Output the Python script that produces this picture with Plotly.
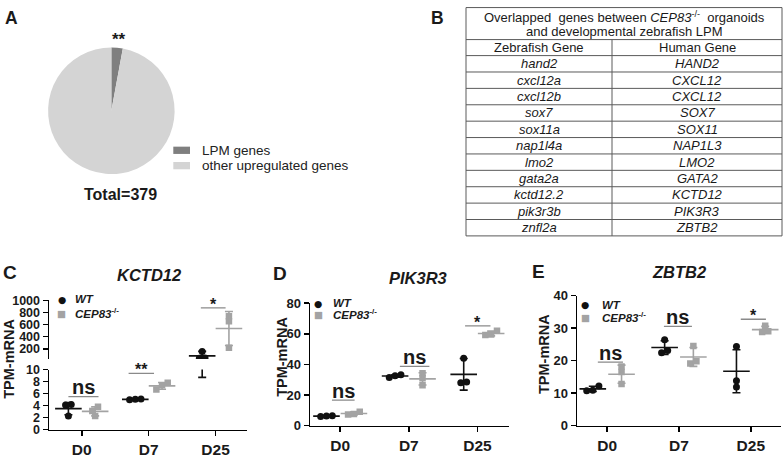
import plotly.graph_objects as go

W, H = 784, 458
FONT = "Liberation Sans, Arial, Helvetica, sans-serif"
TXT = "#1a1a1a"
BLACK = "#111111"
GRAY = "#a3a3a3"
SIGLINE = "#8a8a8a"

def px(x):
    return x / W

def py(y):
    return 1 - y / H

# ---------------- data ----------------
pie_labels = ["LPM genes", "other upregulated genes"]
pie_values = [11, 368]
pie_total_label = "Total=379"

zebrafish_genes = ["hand2", "cxcl12a", "cxcl12b", "sox7", "sox11a", "nap1l4a",
                   "lmo2", "gata2a", "kctd12.2", "pik3r3b", "znfl2a"]
human_genes = ["HAND2", "CXCL12", "CXCL12", "SOX7", "SOX11", "NAP1L3",
               "LMO2", "GATA2", "KCTD12", "PIK3R3", "ZBTB2"]

timepoints = ["D0", "D7", "D25"]
groups = ["WT", "CEP83<sup>-/-</sup>"]

# KCTD12 (TPM)
kctd12_wt = [[4.2, 4.1, 2.3], [5.0, 5.05, 5.1], [155, 48, 45]]
kctd12_wt_mean = [3.5, 5.05, 83]
kctd12_wt_sd = [1.0, 0.05, 74.3]
kctd12_ko = [[3.8, 3.1, 2.3], [7.8, 7.4, 6.7], [735, 655, 215]]
kctd12_ko_mean = [3.05, 7.3, 535]
kctd12_ko_sd = [0.75, 0.56, 280]
kctd12_sig = ["ns", "**", "*"]
kctd12_sig_y = [5.5, 9.36, 874]

# PIK3R3 (TPM)
pik3r3_wt = [[6.5, 6.0, 6.2], [33.2, 32.5, 31.5], [44, 28, 28.5]]
pik3r3_wt_mean = [6.2, 32.4, 33.5]
pik3r3_wt_sd = [0.3, 0.85, 10.3]
pik3r3_ko = [[9.0, 7.5, 7.3], [34.2, 31.0, 26.3], [62.0, 59.5, 59.2]]
pik3r3_ko_mean = [7.9, 30.5, 60.2]
pik3r3_ko_sd = [0.9, 4.0, 1.55]
pik3r3_sig = ["ns", "ns", "*"]
pik3r3_sig_y = [16.7, 38.7, 65.2]

# ZBTB2 (TPM)
zbtb2_wt = [[12.2, 10.7, 10.9], [26.4, 22.4, 23.1], [24.3, 13.8, 11.9]]
zbtb2_wt_mean = [11.3, 24.0, 16.7]
zbtb2_wt_sd = [0.8, 2.1, 6.6]
zbtb2_ko = [[18.2, 16.5, 12.8], [24.5, 19.1, 19.8], [30.7, 29.0, 28.8]]
zbtb2_ko_mean = [15.8, 21.1, 29.5]
zbtb2_ko_sd = [2.8, 2.9, 1.0]
zbtb2_sig = ["ns", "ns", "*"]
zbtb2_sig_y = [19.5, 30.5, 32.7]

# broken-axis segments of panel C
C_UPPER = [30, 1000]
C_LOWER = [0, 10]

# ---------------- helpers ----------------
SIDE = 0.2      # dodge between genotypes
STEP = 0.085    # horizontal swarm step


def swarm(vals, ppu_fn, tol_px=5.0):
    n = len(vals)
    order = sorted(range(n), key=lambda i: vals[i])
    clusters = []
    for i in order:
        if clusters:
            j = clusters[-1][-1]
            if abs(vals[i] - vals[j]) * ppu_fn(vals[i]) < tol_px:
                clusters[-1].append(i)
                continue
        clusters.append([i])
    offs = [0.0] * n
    for c in clusters:
        k = len(c)
        for m, i in enumerate(c):
            offs[i] = (m - (k - 1) / 2) * STEP
    return offs


fig = go.Figure()


def add_genotype(xa, ya, pts, means, sds, color, symbol, side, ppu_fn, yrange=None):
    lo, hi = yrange if yrange else (-1e18, 1e18)
    xs, ys = [], []
    for i, vals in enumerate(pts):
        offs = swarm(vals, ppu_fn)
        for v, o in zip(vals, offs):
            if lo <= v <= hi:
                xs.append(i + side * SIDE + o)
                ys.append(v)
    fig.add_trace(go.Scatter(
        x=xs, y=ys, mode="markers", xaxis=xa, yaxis=ya, cliponaxis=True,
        marker=dict(symbol=symbol, size=7 if symbol == "circle" else 6.5, color=color,
                    line=dict(width=0)),
        showlegend=False, hoverinfo="skip"))
    mx, my, me = [], [], []
    for i, (m, s) in enumerate(zip(means, sds)):
        if m + s >= lo and m - s <= hi:
            mx.append(i + side * SIDE)
            my.append(m)
            me.append(s)
    fig.add_trace(go.Scatter(
        x=mx, y=my, mode="markers", xaxis=xa, yaxis=ya, cliponaxis=True,
        marker=dict(symbol="line-ew", size=19, color=color,
                    line=dict(width=1.6, color=color)),
        error_y=dict(type="data", array=me, visible=True, color=color,
                     thickness=1.6, width=4),
        showlegend=False, hoverinfo="skip"))


def ppu_c(v):
    return 6.27 if v <= 10 else 0.0632

# Panel C (broken axis: upper x/y, lower x2/y2)
for xa, ya, rng in (("x", "y", C_UPPER), ("x2", "y2", C_LOWER)):
    add_genotype(xa, ya, kctd12_wt, kctd12_wt_mean, kctd12_wt_sd, BLACK, "circle", -1, ppu_c, rng)
    add_genotype(xa, ya, kctd12_ko, kctd12_ko_mean, kctd12_ko_sd, GRAY, "square", 1, ppu_c, rng)

add_genotype("x3", "y3", pik3r3_wt, pik3r3_wt_mean, pik3r3_wt_sd, BLACK, "circle", -1, lambda v: 1.596)
add_genotype("x3", "y3", pik3r3_ko, pik3r3_ko_mean, pik3r3_ko_sd, GRAY, "square", 1, lambda v: 1.596)
add_genotype("x4", "y4", zbtb2_wt, zbtb2_wt_mean, zbtb2_wt_sd, BLACK, "circle", -1, lambda v: 3.39)
add_genotype("x4", "y4", zbtb2_ko, zbtb2_ko_mean, zbtb2_ko_sd, GRAY, "square", 1, lambda v: 3.39)

# Pie (panel A)
fig.add_trace(go.Pie(
    labels=pie_labels, values=pie_values, sort=False, direction="clockwise",
    rotation=0, textinfo="none", hoverinfo="skip", showlegend=False,
    marker=dict(colors=["#7f7f7f", "#d4d4d4"], line=dict(width=0)),
    domain=dict(x=[px(45), px(177.7)], y=[py(174.3), py(42.3)])))

# ---------------- axes ----------------
axis_common = dict(showline=True, linecolor="black", linewidth=1.5, ticks="outside",
                   ticklen=5, tickwidth=1.5, tickcolor="black", showgrid=False,
                   zeroline=False, fixedrange=True)
ytick_font_c = dict(family=FONT, size=12.5, color=TXT, weight="bold")
ytick_font = dict(family=FONT, size=13, color=TXT, weight="bold")
xtick_font = dict(family=FONT, size=15.5, color=TXT, weight="bold")

cR = [-0.49, 2.47]
dR = [-0.44, 2.46]
eR = [-0.42, 2.42]

fig.update_layout(
    xaxis=dict(domain=[px(49), px(247)], anchor="y", range=cR, visible=False),
    yaxis=dict(domain=[py(367.3), py(306)], anchor="x", range=C_UPPER,
               tickvals=[200, 400, 600, 800, 1000], tickfont=ytick_font_c, **axis_common),
    xaxis2=dict(domain=[px(49), px(247)], anchor="y2", range=cR, tickvals=[0, 1, 2],
                ticktext=timepoints, tickfont=xtick_font, **axis_common),
    yaxis2=dict(domain=[py(441), py(378.3)], anchor="x2", range=C_LOWER,
                tickvals=[0, 2, 4, 6, 8, 10], tickfont=ytick_font_c, **axis_common),
    xaxis3=dict(domain=[px(310), px(509)], anchor="y3", range=dR, tickvals=[0, 1, 2],
                ticktext=timepoints, tickfont=xtick_font, **axis_common),
    yaxis3=dict(domain=[py(436.7), py(309)], anchor="x3", range=[0, 80],
                tickvals=[0, 20, 40, 60, 80], tickfont=ytick_font, **axis_common),
    xaxis4=dict(domain=[px(577), px(781)], anchor="y4", range=eR, tickvals=[0, 1, 2],
                ticktext=timepoints, tickfont=xtick_font, **axis_common),
    yaxis4=dict(domain=[py(436.7), py(301)], anchor="x4", range=[0, 40],
                tickvals=[0, 10, 20, 30, 40], tickfont=ytick_font, **axis_common),
)

annotations = []
shapes = []


def ann(x, y, text, size, bold=False, italic=False, xanchor="center", yanchor="middle",
        color=TXT, angle=0, family=FONT):
    t = text
    if italic:
        t = f"<i>{t}</i>"
    if bold:
        t = f"<b>{t}</b>"
    annotations.append(dict(x=px(x), y=py(y), xref="paper", yref="paper", text=t,
                            showarrow=False, xanchor=xanchor, yanchor=yanchor,
                            textangle=angle,
                            font=dict(family=family, size=size, color=color)))

# panel letters
ann(11.7, 11, "A", 17.5, bold=True)
ann(437.5, 11, "B", 17.5, bold=True)
ann(10.3, 277, "C", 19, bold=True)
ann(279.5, 278.3, "D", 19, bold=True)
ann(538.5, 276, "E", 19, bold=True)

# panel A texts
ann(119, 34, "**", 17, bold=True)
ann(120, 195.5, pie_total_label, 16, bold=True)
for k, (lab, col) in enumerate(zip(pie_labels, ["#7f7f7f", "#d4d4d4"])):
    yc = 149.5 + 16 * k
    shapes.append(dict(type="rect", xref="paper", yref="paper", x0=px(173.3), x1=px(190),
                       y0=py(yc - 3.8), y1=py(yc + 3.8), fillcolor=col, line=dict(width=0)))
    ann(199.5, yc, lab, 13.5, xanchor="left", color="#222222")

# panel B table
tl, tr, tdiv = 466, 782, 612
row_h = 17.1
y_title_bottom, y_header_bottom = 34, 50.7
n_rows = len(zebrafish_genes)
y_bottom = y_header_bottom + row_h * n_rows
LINEC = "#5a5a5a"
hlines = [0.6, y_title_bottom, y_header_bottom] + [y_header_bottom + row_h * (k + 1) for k in range(n_rows)]
for yy in hlines:
    shapes.append(dict(type="line", xref="paper", yref="paper", x0=px(tl), x1=px(tr),
                       y0=py(yy), y1=py(yy), line=dict(color=LINEC, width=1)))
for xx in (tl, tr):
    shapes.append(dict(type="line", xref="paper", yref="paper", x0=px(xx), x1=px(xx),
                       y0=py(0.6), y1=py(y_bottom), line=dict(color=LINEC, width=1)))
shapes.append(dict(type="line", xref="paper", yref="paper", x0=px(tdiv), x1=px(tdiv),
                   y0=py(y_title_bottom), y1=py(y_bottom), line=dict(color=LINEC, width=1)))
ann((tl + tr) / 2, 10.5, "Overlapped\u00a0 genes between <i>CEP83</i><sup>-/-</sup>\u00a0 organoids", 13)
ann((tl + tr) / 2, 25.5, "and developmental zebrafish LPM", 13)
ann((tl + tdiv) / 2, (y_title_bottom + y_header_bottom) / 2, "Zebrafish Gene", 13)
ann((tdiv + tr) / 2, (y_title_bottom + y_header_bottom) / 2, "Human Gene", 13)
for k, (zg, hg) in enumerate(zip(zebrafish_genes, human_genes)):
    yc = y_header_bottom + row_h * (k + 0.5)
    ann((tl + tdiv) / 2, yc, zg, 13, italic=True)
    ann((tdiv + tr) / 2, yc, hg, 13, italic=True)

# panel titles & y titles
ann(149, 279.5, "KCTD12", 16.5, bold=True, italic=True)
ann(417.5, 282.5, "PIK3R3", 16.5, bold=True, italic=True)
ann(679, 276, "ZBTB2", 16.5, bold=True, italic=True)
ann(9, 367, "TPM-mRNA", 14.5, bold=True, angle=-90)
ann(282, 365, "TPM-mRNA", 14.5, bold=True, angle=-90)
ann(544, 362, "TPM-mRNA", 14.5, bold=True, angle=-90)

# in-panel legends
for (mx, my_wt, my_ko, tx) in ((61.7, 305, 319.3, 73), (318, 309, 320.5, 331), (585, 310.5, 323.5, 600)):
    ann(mx, my_wt, "\u25cf", 9.5, color=BLACK, family="DejaVu Sans")
    ann(mx, my_ko, "\u25a0", 9.5, color=GRAY, family="DejaVu Sans")
    ann(tx, my_wt, groups[0], 11.5, bold=True, italic=True, xanchor="left")
    ann(tx, my_ko, "<i>CEP83</i><sup>-/-</sup>", 11.5, bold=True, xanchor="left")

# significance brackets
sig_spans = {
    "C": [(-0.2, 0.25), (-0.3, 0.08), (-0.22, 0.15)],
    "D": [(-0.12, 0.21), (-0.13, 0.3), (-0.18, 0.19)],
    "E": [(-0.13, 0.22), (-0.21, 0.18), (-0.14, 0.21)],
}
panel_sig = {
    "C": (kctd12_sig, kctd12_sig_y, [("x2", "y2"), ("x2", "y2"), ("x", "y")]),
    "D": (pik3r3_sig, pik3r3_sig_y, [("x3", "y3")] * 3),
    "E": (zbtb2_sig, zbtb2_sig_y, [("x4", "y4")] * 3),
}
for p, (labels, ys, refs) in panel_sig.items():
    for i, (lab, yv, (xr, yr), (a, b)) in enumerate(zip(labels, ys, refs, sig_spans[p])):
        shapes.append(dict(type="line", xref=xr, yref=yr, x0=i + a, x1=i + b, y0=yv, y1=yv,
                           line=dict(color=SIGLINE, width=1.3)))
        is_ns = lab == "ns"
        annotations.append(dict(x=i + (a + b) / 2, y=yv, xref=xr, yref=yr, text=f"<b>{lab}</b>",
                                showarrow=False, xanchor="center", yanchor="bottom",
                                yshift=-3.5 if is_ns else -7,
                                font=dict(family=FONT, size=20 if is_ns else 16, color=TXT)))

fig.update_layout(
    width=W, height=H, margin=dict(l=0, r=0, t=0, b=0),
    paper_bgcolor="white", plot_bgcolor="white",
    annotations=annotations, shapes=shapes, showlegend=False,
    font=dict(family=FONT, color=TXT),
)

fig.write_html("out.html", config={"displayModeBar": False, "staticPlot": True},
               post_script="document.body.style.margin='0px';document.body.style.overflow='hidden';")
